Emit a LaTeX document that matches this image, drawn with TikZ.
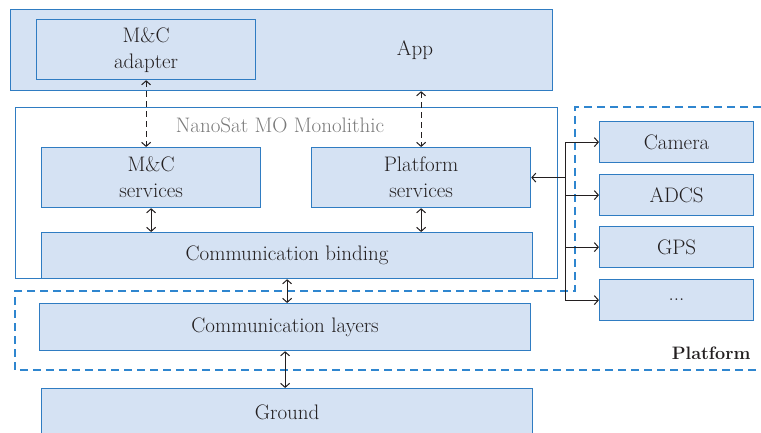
\documentclass[tikz,border=0pt]{standalone}
\usepackage{xcolor}
\usepackage{tikz}
\usetikzlibrary{shapes.geometric,arrows,arrows.meta}
\definecolor{nmfill}{HTML}{D5E2F3}
\definecolor{nmblue}{HTML}{2F7CC2}
\definecolor{nmdash}{HTML}{2F86CF}
\definecolor{nmtext}{HTML}{231F20}
\definecolor{nmgray}{HTML}{7A7A7A}
\tikzstyle{block} = [rectangle, anchor=north west, draw=nmblue, fill=nmfill, line width=1.2pt,
text=nmtext, align=center, inner sep=0pt]
\tikzstyle{frame} = [rectangle, anchor=north west, draw=nmblue, line width=1.2pt, inner sep=0pt]
\tikzstyle{arrow} = [line width=1pt, draw=nmtext, >={Straight Barb[length=4pt,width=9pt]}]
\tikzstyle{dasharrow} = [arrow, dashed, dash pattern=on 6pt off 4pt]
\tikzstyle{platline} = [draw=nmdash, line width=1.4pt, dash pattern=on 8pt off 5pt]

\begin{document}
\begin{tikzpicture}[x=1pt,y=-1pt,font=\fontsize{21}{26}\selectfont]
                 \useasboundingbox (0,0) rectangle (761,433);
                 % spacecraft side
                 \node (app) [block, minimum width=542pt, minimum height=81pt] at (10,9) {};
                 \node (applbl) [text=nmtext] at (415,50) {App};
                 \node (mcad) [block, minimum width=219pt, minimum height=60pt] at (36,19) {M\&C\\adapter};
                 \node (nmf) [frame, minimum width=542pt, minimum height=171pt] at (15,107) {};
                 \node (nmflbl) [text=nmgray] at (280,125) {NanoSat MO Monolithic};
                 \node (mcs) [block, minimum width=219pt, minimum height=60pt] at (41,147) {M\&C\\services};
                 \node (plat) [block, minimum width=219pt, minimum height=60pt] at (311,147) {Platform\\services};
                 \node (bind) [block, minimum width=491pt, minimum height=46pt] at (41,232) {Communication binding};
                 \node (layers) [block, minimum width=491pt, minimum height=47pt] at (39,303) {Communication layers};
                 \node (ground) [block, minimum width=491pt, minimum height=48pt] at (41,388) {Ground};
                 % peripherals
                 \node (cam) [block, minimum width=154pt, minimum height=41pt] at (599,121) {Camera};
                 \node (adcs) [block, minimum width=154pt, minimum height=41pt] at (599,174) {ADCS};
                 \node (gps) [block, minimum width=154pt, minimum height=41pt] at (599,226) {GPS};
                 \node (dots) [block, minimum width=154pt, minimum height=41pt] at (599,279) {...};
                 \node (platlbl) [anchor=east, text=nmtext, font=\fontsize{18}{20}\selectfont\bfseries] at (754,353) {Platform};
                 \coordinate (bus) at (565,0);
                 % platform boundary
                 \draw [platline] (761,107) -- (575,107) -- (575,291) -- (15,291) -- (15,370) -- (761,370);
                 % connectors
                 \draw [dasharrow,<->] (mcad.south) -- (mcad.south |- mcs.north);
                 \draw [dasharrow,<->] (plat.north |- app.south) -- (plat.north);
                 \draw [arrow,<->] (mcs.south) -- (mcs.south |- bind.north);
                 \draw [arrow,<->] (plat.south) -- (plat.south |- bind.north);
                 \draw [arrow,<->] (bind.south) -- (bind.south |- layers.north);
                 \draw [arrow,<->] (layers.south) -- (layers.south |- ground.north);
                 \draw [arrow,->] (plat.east -| bus) -- (plat.east);
                 \draw [arrow] (cam.west -| bus) -- (dots.west -| bus);
                 \foreach \dev in {cam,adcs,gps,dots}
                     \draw [arrow,->] (\dev.west -| bus) -- (\dev.west);
             \end{tikzpicture}
\end{document}
